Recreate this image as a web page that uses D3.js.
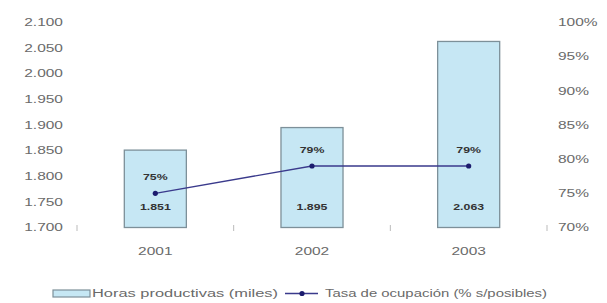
<!DOCTYPE html>
<html>
<head>
<meta charset="utf-8">
<script src="https://cdn.jsdelivr.net/npm/d3@7"></script>
<style>
  body { margin: 0; background: #fff; }
  text { font-family: "Liberation Sans", Arial, sans-serif; }
</style>
</head>
<body>
<div id="chart"></div>
<script>
(function() {
var width = 607,
    height = 303;

// data
var years = ["2001", "2002", "2003"];
var horas = [1851, 1895, 2063];          // Horas productivas (miles)
var tasa = [75, 79, 79];                 // Tasa de ocupación (%)
var horasTicks = [1700, 1750, 1800, 1850, 1900, 1950, 2000, 2050, 2100];
var tasaTicks = [70, 75, 80, 85, 90, 95, 100];
var legendLabels = ["Horas productivas (miles)", "Tasa de ocupación (% s/posibles)"];

var stretch = 1.55; // text in the picture is wide
var fmt = function(v) { return d3.format(",")(v).replace(/,/g, "."); };

var svg = d3.select("#chart").append("svg")
    .attr("width", width)
    .attr("height", height);

var x = d3.scaleBand()
    .domain(years)
    .range([77, 547])
    .paddingInner(0.604)
    .paddingOuter(0.302);

var y = d3.scaleLinear()
    .domain([1700, 2100])
    .range([227.5, 22.5]);

var y2 = d3.scaleLinear()
    .domain([70, 100])
    .range([227.5, 22.5]);

// left axis
var left = svg.append("g")
    .attr("transform", "translate(75,0)")
    .call(d3.axisLeft(y).tickValues(horasTicks).tickSize(0).tickFormat(fmt));
left.select(".domain").remove();
left.selectAll("text")
    .attr("x", -12 / stretch)
    .attr("transform", "scale(" + stretch + ",1)")
    .style("font-size", "10px")
    .attr("fill", "#6a6a6a");

// right axis
var right = svg.append("g")
    .attr("transform", "translate(547,0)")
    .call(d3.axisRight(y2).tickValues(tasaTicks).tickSize(0).tickFormat(function(d) { return d + "%"; }));
right.select(".domain").remove();
right.selectAll("text")
    .attr("x", 11 / stretch)
    .attr("transform", "scale(" + stretch + ",1)")
    .style("font-size", "10px")
    .attr("fill", "#6a6a6a");

// bottom axis (labels only)
var bottom = svg.append("g")
    .attr("transform", "translate(0,227.5)")
    .call(d3.axisBottom(x).tickSize(0).tickPadding(20));
bottom.select(".domain").remove();
bottom.selectAll("text")
    .attr("transform", "scale(" + stretch + ",1)")
    .style("font-size", "10px")
    .attr("fill", "#6a6a6a");

// small category boundary ticks
var step = x.step();
var bounds = [x.range()[0]].concat(years.map(function(d) {
    return x(d) + x.bandwidth() / 2 + step / 2;
}));
svg.append("g").selectAll("line")
    .data(bounds)
    .enter()
    .append("line")
    .attr("x1", function(d) { return d; })
    .attr("x2", function(d) { return d; })
    .attr("y1", 225)
    .attr("y2", 231)
    .style("stroke", "#bbb")
    .style("stroke-width", 1);

// bars
svg.append("g").selectAll("rect")
    .data(horas)
    .enter()
    .append("rect")
    .attr("x", function(d, i) { return x(years[i]); })
    .attr("y", function(d) { return y(d); })
    .attr("width", x.bandwidth())
    .attr("height", function(d) { return y(1700) - y(d); })
    .style("fill", "#c6e7f4")
    .style("stroke", "#7d9099")
    .style("stroke-width", 1.3);

// bar value labels
svg.append("g").selectAll("text")
    .data(horas)
    .enter()
    .append("text")
    .attr("transform", function(d, i) {
        return "translate(" + (x(years[i]) + x.bandwidth() / 2) + "," + (y(1700) - 18) + ") scale(1.45,1)";
    })
    .attr("text-anchor", "middle")
    .style("font-size", "8.5px")
    .style("font-weight", "bold")
    .attr("fill", "#333")
    .text(fmt);

// line
var line = d3.line()
    .x(function(d, i) { return x(years[i]) + x.bandwidth() / 2; })
    .y(function(d) { return y2(d); });

svg.append("path")
    .datum(tasa)
    .attr("d", line)
    .style("fill", "none")
    .style("stroke", "#3a3a8c")
    .style("stroke-width", 1.3);

svg.append("g").selectAll("circle")
    .data(tasa)
    .enter()
    .append("circle")
    .attr("cx", function(d, i) { return x(years[i]) + x.bandwidth() / 2; })
    .attr("cy", function(d) { return y2(d); })
    .attr("r", 2.6)
    .style("fill", "#1c1c6e");

// percent labels
svg.append("g").selectAll("text")
    .data(tasa)
    .enter()
    .append("text")
    .attr("transform", function(d, i) {
        return "translate(" + (x(years[i]) + x.bandwidth() / 2) + "," + (y2(d) - 13) + ") scale(1.45,1)";
    })
    .attr("text-anchor", "middle")
    .style("font-size", "8.5px")
    .style("font-weight", "bold")
    .attr("fill", "#333")
    .text(function(d) { return d + "%"; });

// legend
var legend = svg.append("g")
    .attr("class", "legend");

legend.append("rect")
    .attr("x", 53)
    .attr("y", 290)
    .attr("width", 37)
    .attr("height", 7)
    .style("fill", "#c6e7f4")
    .style("stroke", "#7d9099")
    .style("stroke-width", 1.2);

legend.append("text")
    .attr("x", 92)
    .attr("y", 297)
    .attr("textLength", 186)
    .attr("lengthAdjust", "spacingAndGlyphs")
    .style("font-size", "10px")
    .attr("fill", "#6a6a6a")
    .text(legendLabels[0]);

legend.append("line")
    .attr("x1", 285)
    .attr("x2", 318)
    .attr("y1", 293.5)
    .attr("y2", 293.5)
    .style("stroke", "#3a3a8c")
    .style("stroke-width", 1.3);

legend.append("circle")
    .attr("cx", 302)
    .attr("cy", 293.5)
    .attr("r", 2.6)
    .style("fill", "#1c1c6e");

legend.append("text")
    .attr("x", 325)
    .attr("y", 297)
    .attr("textLength", 222)
    .attr("lengthAdjust", "spacingAndGlyphs")
    .style("font-size", "10px")
    .attr("fill", "#6a6a6a")
    .text(legendLabels[1]);
})();
</script>
</body>
</html>
